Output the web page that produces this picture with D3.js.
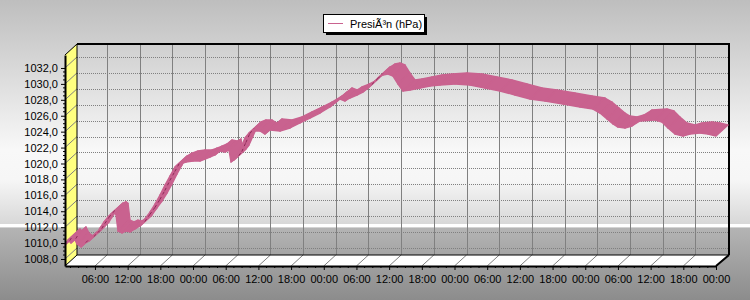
<!DOCTYPE html>
<html>
<head>
<meta charset="utf-8">
<script src="https://cdn.jsdelivr.net/npm/d3@7"></script>
<style>
  body { margin: 0; background: #fff; }
  svg { display: block; font-family: "Liberation Sans", Arial, sans-serif; }
</style>
</head>
<body>
<svg id="chart" width="750" height="300"></svg>
<script>
// hours since first midnight / pressure (hPa)
const hours = [0.5, 1.05, 1.6, 2.15, 2.7, 3.44, 4.17, 4.91, 5.64, 6.37, 6.92, 7.66, 8.39, 8.94, 9.49, 9.86,
  10.23, 10.96, 11.7, 12.43, 13.35, 14.27, 15.18, 16.1, 17.02, 17.94, 18.86, 19.77, 20.69, 21.61, 22.71,
  24.0, 25.28, 26.2, 27.12, 28.03, 28.95, 29.87, 30.6, 30.97, 31.52, 32.07, 32.81, 33.54, 34.28, 35.19,
  36.3, 37.21, 38.13, 39.97, 41.8, 43.64, 45.47, 47.31, 49.14, 50.06, 50.98, 51.9, 52.81, 54.1, 55.2,
  55.93, 57.04, 57.95, 58.87, 59.79, 60.71, 61.63, 62.54, 63.83, 65.66, 67.5, 69.34, 72.09, 74.84, 77.6,
  80.35, 83.1, 85.86, 88.61, 91.91, 95.03, 97.42, 98.7, 99.99, 101.09, 102.0, 103.29, 104.57, 106.04,
  108.8, 110.08, 111.18, 112.47, 113.94, 115.22, 117.06, 118.53, 120.0];
const pressure = [1009.76, 1010.39, 1010.01, 1010.64, 1009.88, 1009.51, 1010.01, 1010.26, 1010.76, 1011.27,
  1011.89, 1012.65, 1013.28, 1013.65, 1013.8, 1013.6, 1011.5, 1011.27, 1011.5, 1011.4, 1011.77, 1012.15,
  1013.03, 1013.9, 1014.9, 1016.04, 1017.3, 1018.43, 1019.56, 1019.93, 1020.19, 1020.31, 1020.31, 1020.56,
  1020.81, 1021.07, 1021.57, 1021.44, 1021.69, 1020.19, 1020.44, 1020.94, 1022.07, 1023.2, 1023.83, 1024.08,
  1024.08, 1023.7, 1024.21, 1024.08, 1024.46, 1025.09, 1025.71, 1026.34, 1027.1, 1027.6, 1028.1, 1027.85,
  1028.23, 1028.6, 1028.98, 1029.36, 1030.11, 1030.74, 1031.12, 1031.24, 1030.99, 1029.98, 1029.11, 1029.23,
  1029.48, 1029.73, 1029.86, 1029.98, 1029.86, 1029.48, 1029.11, 1028.6, 1028.1, 1027.85, 1027.47, 1027.1,
  1026.84, 1026.34, 1025.59, 1024.96, 1024.58, 1024.46, 1024.71, 1025.34, 1025.46, 1025.21, 1024.46, 1023.7,
  1023.45, 1023.7, 1023.83, 1023.7, 1023.45];

const yTicks = [1008, 1010, 1012, 1014, 1016, 1018, 1020, 1022, 1024, 1026, 1028, 1030, 1032];
const xTicks = [6, 12, 18, 24, 30, 36, 42, 48, 54, 60, 66, 72, 78, 84, 90, 96, 102, 108, 114, 120];
const xTickLabels = ["06:00", "12:00", "18:00", "00:00", "06:00", "12:00", "18:00", "00:00", "06:00", "12:00",
  "18:00", "00:00", "06:00", "12:00", "18:00", "00:00", "06:00", "12:00", "18:00", "00:00"];
const seriesName = "PresiÃ³n (hPa)";

const lineColor = "#c9628f";
const darkColor = "#8e2a58";
const gridColor = "#808080";

// front plane and 3d depth offset
const plotLeft = 65, plotRight = 716, plotTop = 55, plotBottom = 266;
const dx = 12, dy = -11;

const svg = d3.select("#chart");

const defs = svg.append("defs");
const grad = defs.append("linearGradient")
    .attr("id", "bg").attr("x1", 0).attr("y1", 0).attr("x2", 0).attr("y2", 1);
[[0, "#bebebe"], [0.5, "#f8f8f8"], [0.6, "#f6f6f6"], [0.745, "#d8d8d8"], [0.748, "#ffffff"], [0.756, "#ffffff"],
 [0.76, "#b4b4b4"], [1, "#8c8c8c"]].forEach(s => {
    grad.append("stop").attr("offset", s[0]).attr("stop-color", s[1]);
});

svg.append("rect").attr("width", 750).attr("height", 300).attr("fill", "url(#bg)");

const x = d3.scaleLinear().domain([0.5, 120]).range([plotLeft, plotRight]);
const y = d3.scaleLinear().domain([1007.12, 1033.63]).range([plotBottom, plotTop]);

// left wall (yellow)
svg.append("path")
   .attr("d", `M${plotLeft},${plotTop}L${plotLeft + dx},${plotTop + dy}L${plotLeft + dx},${plotBottom + dy}L${plotLeft},${plotBottom}Z`)
   .attr("fill", "#ffff80");

// floor
svg.append("path")
   .attr("d", `M${plotLeft},${plotBottom}L${plotLeft + dx},${plotBottom + dy}L${plotRight + dx},${plotBottom + dy}L${plotRight},${plotBottom}Z`)
   .attr("fill", "#ffffff");

// back wall grid
const grid = svg.append("g").attr("stroke", gridColor).attr("fill", "none");
grid.selectAll(".hgrid")
    .data(yTicks)
    .enter().append("line")
    .attr("x1", plotLeft + dx).attr("x2", plotRight + dx)
    .attr("y1", d => Math.round(y(d)) + dy + 0.5).attr("y2", d => Math.round(y(d)) + dy + 0.5)
    .attr("stroke-dasharray", "1,1");
grid.selectAll(".vgrid")
    .data(xTicks)
    .enter().append("line")
    .attr("x1", d => Math.round(x(d)) + dx + 0.5).attr("x2", d => Math.round(x(d)) + dx + 0.5)
    .attr("y1", plotTop + dy).attr("y2", plotBottom + dy);
// wall / floor diagonals
grid.selectAll(".ldiag")
    .data(yTicks)
    .enter().append("line")
    .attr("x1", plotLeft).attr("y1", d => y(d))
    .attr("x2", plotLeft + dx).attr("y2", d => y(d) + dy);
grid.selectAll(".fdiag")
    .data(xTicks)
    .enter().append("line")
    .attr("x1", d => x(d)).attr("y1", plotBottom)
    .attr("x2", d => x(d) + dx).attr("y2", plotBottom + dy);

// frame
const frame = svg.append("g").attr("stroke", "#000").attr("fill", "none");
frame.append("path").attr("stroke-width", 2)
     .attr("d", `M${plotLeft + dx},${plotTop + dy}L${plotRight + dx + 1},${plotTop + dy}L${plotRight + dx + 1},${plotBottom + dy}`);
frame.append("path").attr("stroke-width", 1)
     .attr("d", `M${plotLeft},${plotTop}L${plotLeft + dx},${plotTop + dy}L${plotLeft + dx},${plotBottom + dy}L${plotRight + dx},${plotBottom + dy}`);
frame.append("path").attr("stroke-width", 1)
     .attr("d", `M${plotLeft},${plotBottom}L${plotLeft + dx},${plotBottom + dy}`);
frame.append("path").attr("stroke-width", 2)
     .attr("d", `M${plotRight},${plotBottom}L${plotRight + dx + 1},${plotBottom + dy}`);

// 3d ribbon line
const pts = hours.map((h, i) => [x(h), y(pressure[i])]);
const segs = d3.pairs(pts);
const isBack = ([a, b]) => (b[0] - a[0]) * dy - (b[1] - a[1]) * dx > 0;
const ribbon = svg.append("g");
ribbon.selectAll("path")
    .data(segs)
    .enter().append("path")
    .attr("d", ([a, b]) => `M${a[0]},${a[1]}L${b[0]},${b[1]}L${b[0] + dx},${b[1] + dy}L${a[0] + dx},${a[1] + dy}Z`)
    .attr("fill", lineColor)
    .attr("stroke", lineColor)
    .attr("stroke-width", 1.4)
    .attr("stroke-linejoin", "round");
// thin dark streaks on the steep rises
ribbon.selectAll("line")
    .data(segs.filter(isBack))
    .enter().append("line")
    .attr("x1", ([a]) => a[0] + dx * 0.4).attr("y1", ([a]) => a[1] + dy * 0.4)
    .attr("x2", ([, b]) => b[0] + dx * 0.4).attr("y2", ([, b]) => b[1] + dy * 0.4)
    .attr("stroke", darkColor)
    .attr("stroke-width", 1)
    .attr("stroke-dasharray", "3,3");

// axes
const yAxis = svg.append("g")
    .attr("transform", `translate(${plotLeft},0)`)
    .call(d3.axisLeft(y).tickValues(yTicks).tickSize(4).tickSizeOuter(0)
        .tickFormat(d => d.toFixed(1).replace(".", ",")));
const xAxis = svg.append("g")
    .attr("transform", `translate(0,${plotBottom})`)
    .call(d3.axisBottom(x).tickValues(xTicks).tickSize(4).tickSizeOuter(0)
        .tickFormat((d, i) => xTickLabels[i]));

[yAxis, xAxis].forEach(g => {
    g.select(".domain").attr("stroke", "#000").attr("stroke-width", 2);
    g.selectAll(".tick line").attr("stroke", "#000");
    g.selectAll("text").attr("fill", "#000").style("font-size", "11px")
     .style("font-family", "'Liberation Sans', Arial, sans-serif");
});
yAxis.selectAll("text").attr("x", -7);
xAxis.selectAll("text").attr("y", 9);

// minor ticks
const yMinor = d3.range(1008, 1032.01, 0.5).filter(v => v % 2 !== 0);
svg.append("g").selectAll("line")
   .data(yMinor).enter().append("line")
   .attr("x1", plotLeft - 2).attr("x2", plotLeft)
   .attr("y1", d => y(d)).attr("y2", d => y(d))
   .attr("stroke", "#000");
const xMinor = d3.range(1.5, 120, 1.5).filter(h => h % 6 !== 0);
svg.append("g").selectAll("line")
   .data(xMinor).enter().append("line")
   .attr("x1", d => x(d)).attr("x2", d => x(d))
   .attr("y1", plotBottom).attr("y2", plotBottom + 2)
   .attr("stroke", "#000");

// legend
const legend = svg.append("g").attr("transform", "translate(323,14)");
legend.append("rect").attr("x", 3).attr("y", 3).attr("width", 101).attr("height", 18).attr("fill", "#000");
legend.append("rect").attr("x", 0.5).attr("y", 0.5).attr("width", 101).attr("height", 18)
      .attr("fill", "#fff").attr("stroke", "#000");
legend.append("line").attr("x1", 5).attr("x2", 20).attr("y1", 9.5).attr("y2", 9.5)
      .attr("stroke", lineColor);
legend.append("text").attr("x", 27).attr("y", 13.5)
      .style("font-size", "11px").attr("fill", "#000")
      .text(seriesName);
</script>
</body>
</html>
